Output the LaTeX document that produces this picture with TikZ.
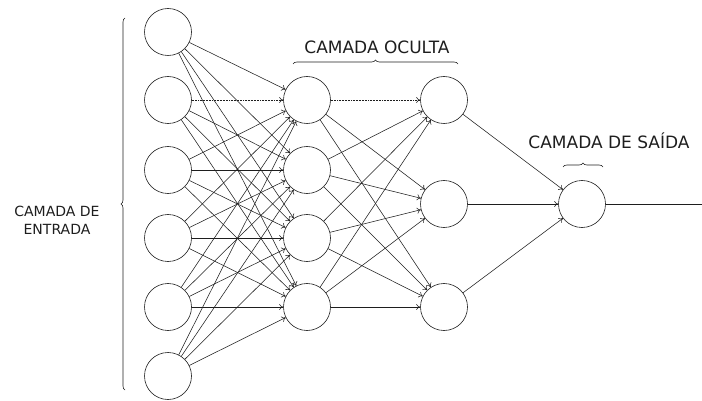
\documentclass[tikz,border=0pt]{standalone}
\usepackage{fontspec}
\usetikzlibrary{arrows.meta,decorations.pathreplacing}
\newfontfamily\lbl{DejaVu Sans}
\definecolor{ink}{HTML}{1E1E1E}
\begin{document}
\begin{tikzpicture}[x=1pt,y=-1pt,
  neuron/.style={circle,draw=ink,line width=0.6pt,minimum size=47pt,inner sep=0pt},
  link/.style={draw=ink,line width=0.55pt,-{To[length=4pt,width=6pt]}},
  dotlink/.style={link,densely dotted},
  brc/.style={draw=ink,line width=0.6pt,decorate,decoration={brace,amplitude=4pt}},
  txt/.style={text=ink,inner sep=0pt,font=\lbl}]
\useasboundingbox (0,0) rectangle (702,401);

% input layer
\foreach \i/\y in {1/32,2/100,3/170,4/238,5/307,6/376}
  \node[neuron] (in\i) at (168,\y) {};
% first hidden layer
\foreach \j/\y in {1/100,2/170,3/238,4/307}
  \node[neuron] (ha\j) at (307,\y) {};
% second hidden layer
\foreach \k/\y in {1/100,2/204,3/307}
  \node[neuron] (hb\k) at (444,\y) {};
% output neuron
\node[neuron] (out) at (582,204) {};
\coordinate (end) at (702,204);

% input -> first hidden
\foreach \i in {1,...,6}
  \foreach \j in {1,...,4}{
    \ifnum\i=2 \ifnum\j=1 \else \path[link] (in\i) -- (ha\j); \fi
    \else \path[link] (in\i) -- (ha\j); \fi
  }
\path[dotlink] (in2) -- (ha1);

% first hidden -> second hidden
\foreach \j in {1,...,4}
  \foreach \k in {1,2,3}{
    \ifnum\j=1 \ifnum\k=1 \else \path[link] (ha\j) -- (hb\k); \fi
    \else \path[link] (ha\j) -- (hb\k); \fi
  }
\path[dotlink] (ha1) -- (hb1);

% second hidden -> output
\foreach \k in {1,2,3}
  \path[link] (hb\k) -- (out);
\draw[ink,line width=0.6pt] (out) -- (end);

% braces and layer labels
\draw[brc] (125,390) -- (125,18);
\node[txt,font=\lbl\fontsize{14}{18}\selectfont,align=center] (lin) at (57,220) {CAMADA DE\\ENTRADA};

\draw[brc] (293,64) -- (458,64);
\node[txt,font=\lbl\fontsize{17}{20}\selectfont] (lhid) at (377,47) {CAMADA OCULTA};

\draw[brc] (563,167) -- (603,167);
\node[txt,font=\lbl\fontsize{17}{20}\selectfont] (lout) at (609,141) {CAMADA DE SAÍDA};
\end{tikzpicture}
\end{document}
